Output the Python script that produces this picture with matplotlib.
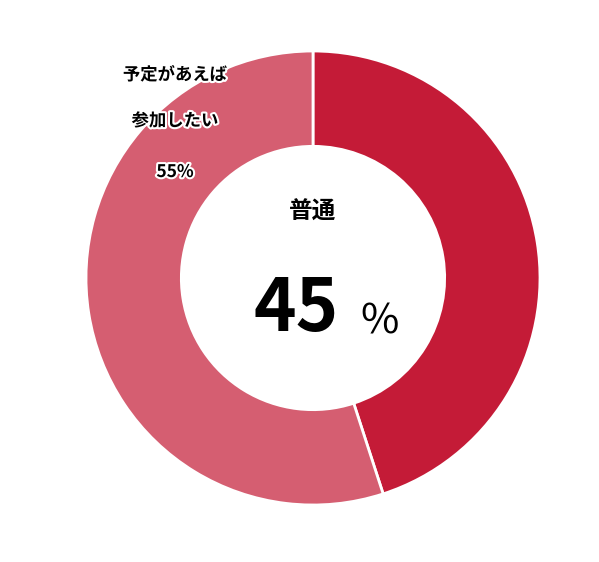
import matplotlib
matplotlib.use("Agg")
import matplotlib.pyplot as plt
import matplotlib.patheffects as pe

plt.rcParams['font.family'] = ['Noto Sans CJK JP', 'DejaVu Sans']

labels = ["普通", "予定があえば参加したい"]
values = [45, 55]
colors = ["#C41B37", "#D55E71"]

W, H = 599, 562
fig = plt.figure(figsize=(W/100, H/100), dpi=100)
cx, cy, R = 313, 278, 227
ax = fig.add_axes([(cx-R)/W, (H-cy-R)/H, 2*R/W, 2*R/H])
ax.pie(values, colors=colors, startangle=90, counterclock=False,
       wedgeprops=dict(width=0.42, edgecolor="white", linewidth=2))
ax.set_xlim(-1, 1); ax.set_ylim(-1, 1); ax.set_aspect('equal'); ax.axis('off')

def fx(x): return x/W
def fy(y): return 1 - y/H
fig.text(fx(313), fy(212), labels[0], ha='center', va='center', fontsize=17, fontweight='bold')
fig.text(fx(296), fy(310), f"{values[0]}", ha='center', va='center', fontsize=52, fontweight='bold')
fig.text(fx(380), fy(322), "%", ha='center', va='center', fontsize=30)
eff = [pe.withStroke(linewidth=3, foreground='white')]
for t, y in [("予定があえば", 75), ("参加したい", 121), (f"{values[1]}%", 172)]:
    fig.text(fx(175), fy(y), t, ha='center', va='center', fontsize=12.5,
             fontweight='bold', path_effects=eff)
fig.savefig("out.png", dpi=100, facecolor="white")
